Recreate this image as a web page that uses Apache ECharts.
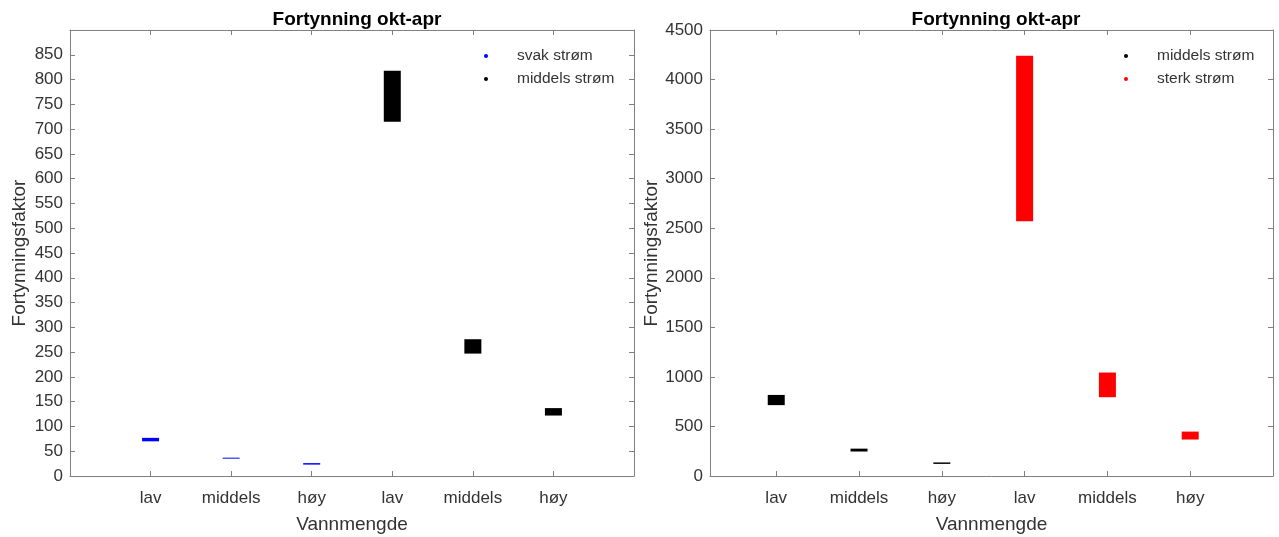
<!DOCTYPE html>
<html>
<head>
<meta charset="utf-8">
<script src="https://cdn.jsdelivr.net/npm/echarts@6/dist/echarts.min.js"></script>
<style>
  html, body { margin: 0; padding: 0; background: #fff; }
  #chart { width: 1279px; height: 537px; }
</style>
</head>
<body>
<div id="chart"></div>
<script>
// categories on the x axis (positions 1..6)
const categories = ["lav", "middels", "høy", "lav", "middels", "høy"]
const yTicksLeft = { min: 0, max: 900, step: 50, showMax: false }
const yTicksRight = { min: 0, max: 4500, step: 500, showMax: true }

// range bars: low / high values
const svakPos = [1, 2, 3]
const svakLow = [70, 35, 23]
const svakHigh = [77, 37, 26]

const middelsPosLeft = [4, 5, 6]
const middelsPosRight = [1, 2, 3]
const middelsLow = [715, 247, 122]
const middelsHigh = [818, 276, 137]

const sterkPos = [4, 5, 6]
const sterkLow = [2570, 795, 368]
const sterkHigh = [4240, 1044, 448]

const textColor = "#333"
const lineColor = "#808080"
const fontFamily = "'Liberation Sans', Arial, sans-serif"

const toData = (pos, low, high) => pos.map((p, i) => [p, low[i], high[i]])

const renderRange = (params, api) => {
  const top = api.coord([api.value(0), api.value(2)])
  const bottom = api.coord([api.value(0), api.value(1)])
  const w = 17
  return {
    type: "rect",
    shape: { x: top[0] - w / 2, y: top[1], width: w, height: Math.max(bottom[1] - top[1], 1) },
    style: { fill: api.visual("color") },
  }
}

const tickVals = categories.map((c, i) => i + 1)

const xAxisBase = (gridIndex, min, position, showLabel) => ({
  type: "value",
  gridIndex,
  position,
  min,
  max: 7,
  axisLine: { show: true, onZero: false, lineStyle: { color: lineColor } },
  axisTick: { show: true, inside: true, length: 5, customValues: tickVals, lineStyle: { color: lineColor } },
  axisLabel: {
    show: showLabel,
    customValues: tickVals,
    formatter: (v) => categories[Math.round(v) - 1] || "",
    color: textColor,
    fontSize: 17,
    fontFamily,
    margin: 14,
  },
  splitLine: { show: false },
  name: showLabel ? "Vannmengde" : "",
  nameLocation: "middle",
  nameGap: 39,
  nameTextStyle: { color: textColor, fontSize: 19, fontFamily },
})

const yAxisBase = (gridIndex, ticks, position, showLabel) => ({
  type: "value",
  gridIndex,
  position,
  min: ticks.min,
  max: ticks.max,
  interval: ticks.step,
  axisLine: { show: true, onZero: false, lineStyle: { color: lineColor } },
  axisTick: { show: true, inside: true, length: 5, lineStyle: { color: lineColor } },
  axisLabel: {
    show: showLabel,
    showMaxLabel: ticks.showMax,
    formatter: (v) => String(v),
    color: textColor,
    fontSize: 17,
    fontFamily,
    margin: 7,
  },
  splitLine: { show: false },
  name: showLabel ? "Fortynningsfaktor" : "",
  nameLocation: "middle",
  nameGap: 41,
  nameTextStyle: { color: textColor, fontSize: 19, fontFamily },
})

const legendBase = (left, names) => ({
  orient: "vertical",
  left,
  top: 47,
  padding: 0,
  itemGap: 5,
  itemWidth: 4,
  itemHeight: 4,
  selectedMode: false,
  data: names.map((n) => ({ name: n, icon: "circle" })),
  textStyle: { color: textColor, fontSize: 15.5, fontFamily, lineHeight: 18, padding: [0, 0, 0, 24] },
})

const titleBase = (left) => ({
  text: "Fortynning okt-apr",
  left,
  top: 5,
  textAlign: "center",
  textStyle: { fontSize: 19, fontWeight: "bold", color: "#000", fontFamily },
})

const chart = echarts.init(document.getElementById("chart"))
chart.setOption({
  animation: false,
  title: [titleBase(352), titleBase(991)],
  legend: [
    legendBase(484, ["svak strøm", "middels strøm"]),
    legendBase(1124, ["middels strøm ", "sterk strøm"]),
  ],
  grid: [
    { left: 70, top: 30, width: 564, height: 446, outerBoundsMode: "none" },
    { left: 710, top: 30, width: 563, height: 446, outerBoundsMode: "none" },
  ],
  xAxis: [
    xAxisBase(0, 0, "bottom", true),
    xAxisBase(0, 0, "top", false),
    xAxisBase(1, 0.2, "bottom", true),
    xAxisBase(1, 0.2, "top", false),
  ],
  yAxis: [
    yAxisBase(0, yTicksLeft, "left", true),
    yAxisBase(0, yTicksLeft, "right", false),
    yAxisBase(1, yTicksRight, "left", true),
    yAxisBase(1, yTicksRight, "right", false),
  ],
  series: [
    {
      name: "svak strøm",
      type: "custom",
      xAxisIndex: 0,
      yAxisIndex: 0,
      itemStyle: { color: "#0000ff" },
      renderItem: renderRange,
      encode: { x: 0, y: [1, 2] },
      data: toData(svakPos, svakLow, svakHigh),
    },
    {
      name: "middels strøm",
      type: "custom",
      xAxisIndex: 0,
      yAxisIndex: 0,
      itemStyle: { color: "#000000" },
      renderItem: renderRange,
      encode: { x: 0, y: [1, 2] },
      data: toData(middelsPosLeft, middelsLow, middelsHigh),
    },
    {
      name: "middels strøm ",
      type: "custom",
      xAxisIndex: 2,
      yAxisIndex: 2,
      itemStyle: { color: "#000000" },
      renderItem: renderRange,
      encode: { x: 0, y: [1, 2] },
      data: toData(middelsPosRight, middelsLow, middelsHigh),
    },
    {
      name: "sterk strøm",
      type: "custom",
      xAxisIndex: 2,
      yAxisIndex: 2,
      itemStyle: { color: "#ff0000" },
      renderItem: renderRange,
      encode: { x: 0, y: [1, 2] },
      data: toData(sterkPos, sterkLow, sterkHigh),
    },
  ],
})
</script>
</body>
</html>
